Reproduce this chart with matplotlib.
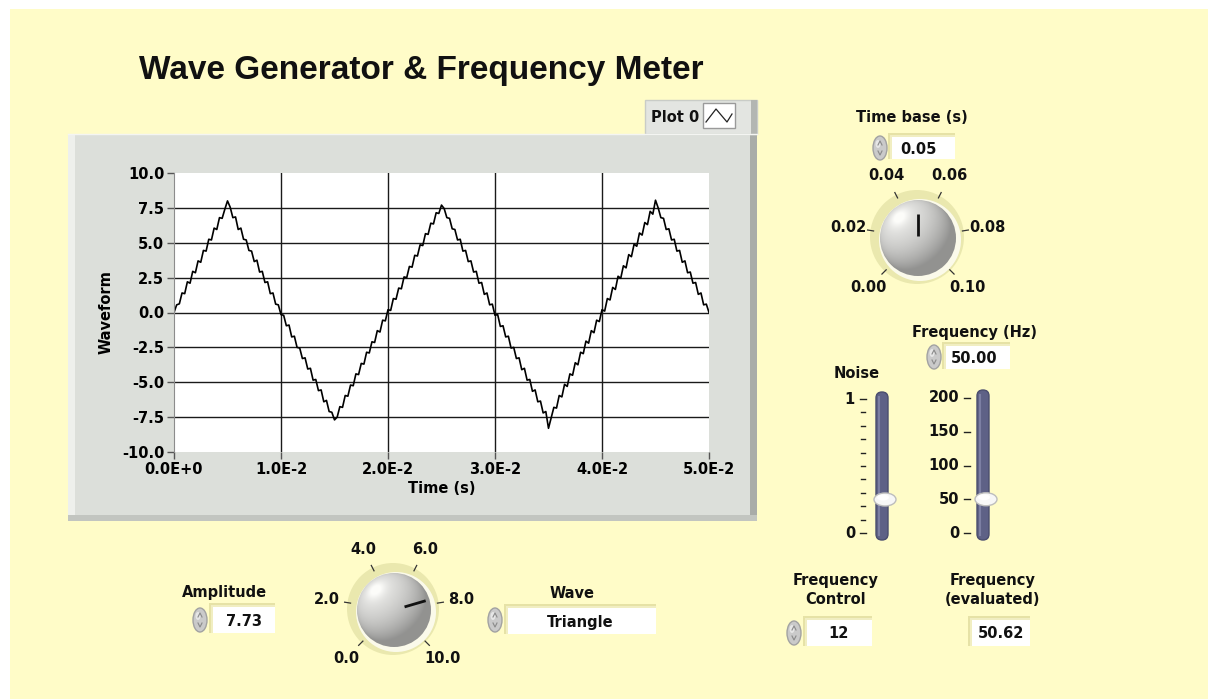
import numpy as np
import matplotlib
matplotlib.use('Agg')
import matplotlib.pyplot as plt
from matplotlib.patches import Rectangle, Circle, Ellipse, FancyBboxPatch

# ---------------- data ----------------
title = "Wave Generator & Frequency Meter"
sample_dt = 0.00025  # s between samples
waveform = [
    0.00, 0.55, 0.62, 1.40, 1.35, 2.20, 2.10, 2.95, 2.85, 3.70, 3.60, 4.45, 4.40, 5.25, 5.20, 6.05, 5.95, 6.80, 6.75, 7.40, 8.00,
    7.55, 6.80, 6.85, 5.95, 6.05, 5.25, 5.20, 4.45, 4.40, 3.65, 3.75, 2.90, 2.95, 2.15, 2.20, 1.35, 1.40, 0.60, 0.55, -0.15,
    -0.20, -0.95, -0.90, -1.75, -1.70, -2.50, -2.55, -3.30, -3.25, -4.05, -4.00, -4.85, -4.80, -5.60, -5.55, -6.40, -6.30, -7.10, -7.15, -7.70,
    -7.50, -6.75, -6.80, -5.95, -6.00, -5.20, -5.25, -4.40, -4.45, -3.65, -3.70, -2.85, -2.90, -2.10, -2.15, -1.30, -1.40, -0.55, -0.60, 0.20,
    0.15, 1.00, 0.95, 1.75, 1.70, 2.55, 2.50, 3.30, 3.25, 4.10, 4.05, 4.85, 4.80, 5.65, 5.60, 6.40, 6.35, 7.15, 7.10, 7.70,
    7.45, 6.80, 6.75, 6.00, 5.95, 5.20, 5.25, 4.40, 4.45, 3.65, 3.70, 2.90, 2.95, 2.10, 2.15, 1.30, 1.40, 0.55, 0.60, -0.20,
    -0.15, -1.00, -0.95, -1.75, -1.70, -2.55, -2.50, -3.30, -3.25, -4.10, -4.00, -4.85, -4.80, -5.65, -5.55, -6.40, -6.35, -7.20, -7.10, -8.30,
    -7.55, -6.80, -6.85, -5.95, -6.05, -5.15, -5.30, -4.40, -4.50, -3.60, -3.75, -2.85, -2.95, -2.05, -2.20, -1.30, -1.45, -0.55, -0.65, 0.20,
    0.10, 1.00, 0.90, 1.80, 1.65, 2.60, 2.45, 3.35, 3.20, 4.15, 4.00, 4.90, 4.75, 5.70, 5.55, 6.45, 6.30, 7.25, 7.05, 8.05,
    7.50, 6.80, 6.75, 5.95, 6.00, 5.20, 5.25, 4.40, 4.45, 3.60, 3.70, 2.85, 2.90, 2.10, 2.15, 1.30, 1.40, 0.55, 0.60, 0.00,
]
x_ticks = [0.0, 0.01, 0.02, 0.03, 0.04, 0.05]
x_tick_labels = ['0.0E+0', '1.0E-2', '2.0E-2', '3.0E-2', '4.0E-2', '5.0E-2']
y_ticks = [-10.0, -7.5, -5.0, -2.5, 0.0, 2.5, 5.0, 7.5, 10.0]
y_tick_labels = ['-10.0', '-7.5', '-5.0', '-2.5', '0.0', '2.5', '5.0', '7.5', '10.0']
x_label = 'Time (s)'
y_label = 'Waveform'
legend_label = 'Plot 0'

timebase_ticks = [0.00, 0.02, 0.04, 0.06, 0.08, 0.10]
timebase_tick_labels = ['0.00', '0.02', '0.04', '0.06', '0.08', '0.10']
timebase_value = 0.05
amp_ticks = [0.0, 2.0, 4.0, 6.0, 8.0, 10.0]
amp_tick_labels = ['0.0', '2.0', '4.0', '6.0', '8.0', '10.0']
amplitude_value = 7.73
noise_ticks = [0.0, 0.1, 0.2, 0.3, 0.4, 0.5, 0.6, 0.7, 0.8, 0.9, 1.0]
noise_major = {0.0: '0', 1.0: '1'}
noise_value = 0.25
freq_ticks = [0, 50, 100, 150, 200]
freq_tick_labels = ['0', '50', '100', '150', '200']
frequency_value = 50.00
wave_type = 'Triangle'
freq_control = 12
freq_evaluated = 50.62

# ---------------- figure ----------------
W, H = 1208, 699
BG = '#FFFCC8'
FONT = 'DejaVu Sans'
fig = plt.figure(figsize=(W / 100, H / 100), dpi=100, facecolor='white')
ov = fig.add_axes([0, 0, 1, 1], zorder=0)
ov.set_xlim(0, W)
ov.set_ylim(H, 0)
ov.axis('off')

ov.add_patch(Rectangle((10, 9), W - 10, H - 9, facecolor=BG, edgecolor='none'))


def txt(x, y, s, size=10.5, ha='center', va='center', weight='bold', family=FONT, **kw):
    ov.text(x, y, s, fontsize=size, ha=ha, va=va, fontweight=weight, family=family, color='#111111', **kw)


txt(139, 70, title, size=24, ha='left', family='Liberation Sans')

# chart panel
ov.add_patch(Rectangle((68, 134), 689, 387, facecolor='#DCDFDA', edgecolor='none'))
ov.add_patch(Rectangle((68, 134), 7, 387, facecolor='#EEF0EC', edgecolor='none'))
ov.add_patch(Rectangle((750, 134), 7, 387, facecolor='#A9ACA8', edgecolor='none'))
ov.add_patch(Rectangle((68, 515), 689, 6, facecolor='#C2C5C0', edgecolor='none'))
ov.plot([68, 757], [134, 134], color='#F4F5F2', lw=1)

# legend
ov.add_patch(Rectangle((645, 100), 112, 34, facecolor='#E3E5E1', edgecolor='#C9CCC7', lw=1))
ov.add_patch(Rectangle((751, 100), 6, 34, facecolor='#B3B6B2', edgecolor='none'))
txt(675, 117, legend_label, size=10.5)
ov.add_patch(Rectangle((703, 103), 32, 25, facecolor='white', edgecolor='#9A9A9A', lw=1))
ov.plot([706, 716, 727, 732], [122, 109, 122, 114], color='#222222', lw=0.9)

# waveform chart
ax = fig.add_axes([174 / W, 1 - 452 / H, 535 / W, 279 / H], zorder=2)
times = np.arange(len(waveform)) * sample_dt
ax.plot(times, waveform, color='black', lw=1.2)
ax.set_xlim(x_ticks[0], x_ticks[-1])
ax.set_ylim(y_ticks[0], y_ticks[-1])
ax.set_xticks(x_ticks)
ax.set_xticklabels(x_tick_labels)
ax.set_yticks(y_ticks)
ax.set_yticklabels(y_tick_labels)
ax.set_facecolor('white')
ax.grid(True, color='#1a1a1a', lw=1.0)
ax.set_axisbelow(True)
for gl in (ax.get_xgridlines()[0], ax.get_xgridlines()[-1], ax.get_ygridlines()[0], ax.get_ygridlines()[-1]):
    gl.set_visible(False)
for side in ['top', 'right', 'bottom']:
    ax.spines[side].set_visible(False)
ax.spines['left'].set_color('#8C8C8C')
ax.tick_params(direction='out', length=5, width=1, color='#555555', pad=2)
for lab in ax.get_xticklabels() + ax.get_yticklabels():
    lab.set_fontweight('bold')
    lab.set_fontsize(10.5)
    lab.set_family(FONT)
ax.set_xlabel(x_label, fontsize=10.5, fontweight='bold', family=FONT, labelpad=3)
ax.set_ylabel(y_label, fontsize=10.5, fontweight='bold', family=FONT, labelpad=6)


# ---------------- widgets ----------------
def spinner(cx, cy):
    ov.add_patch(Ellipse((cx, cy), 14, 24, facecolor='#CACACA', edgecolor='#A2A2A2', lw=1))
    ov.add_patch(Ellipse((cx - 2, cy - 4), 5, 8, facecolor='#E6E6E6', edgecolor='none'))
    ov.plot([cx - 2, cx, cx + 2], [cy - 3, cy - 7, cy - 3], color='#8A8A8A', lw=0.8)
    ov.plot([cx - 2, cx, cx + 2], [cy + 3, cy + 7, cy + 3], color='#8A8A8A', lw=0.8)


def numbox(x0, y0, x1, y1, s, tx=None, ha='left'):
    ov.add_patch(Rectangle((x0 - 4, y0 - 4), x1 - x0 + 4, y1 - y0 + 4, facecolor='#E6E2A6', edgecolor='none'))
    ov.add_patch(Rectangle((x0 - 2, y0 - 2), x1 - x0 + 2, y1 - y0 + 2, facecolor='#F1EEC2', edgecolor='none'))
    ov.add_patch(Rectangle((x0, y0), x1 - x0, y1 - y0, facecolor='white', edgecolor='none'))
    if tx is None:
        tx = (x0 + x1) / 2
    txt(tx, (y0 + y1) / 2 + 1, s, size=10.5, ha=ha)


def knob(cx, cy, r, ticks, labels, value, label_r, p0, p1):
    ov.add_patch(Circle((cx - 1, cy - 1), r + 9, facecolor='#EAE8AE', edgecolor='none'))
    ov.add_patch(Circle((cx + 2, cy + 2), r + 3, facecolor='#FBFAEA', edgecolor='none'))
    n = 200
    u = np.linspace(-1, 1, n)
    U, V = np.meshgrid(u, u)
    Z = np.sqrt(np.clip(1 - U ** 2 - V ** 2, 0, 1))
    L = np.array([-0.5, -0.55, 0.67])
    L = L / np.linalg.norm(L)
    d = np.clip(U * L[0] + V * L[1] + Z * L[2], 0, 1)
    inten = 0.58 + 0.33 * d + 0.12 * d ** 25
    inten = np.clip(inten, 0, 1)
    img = np.dstack([inten * 0.99, inten * 0.99, inten * 0.98])
    im = ov.imshow(img, extent=(cx - r, cx + r, cy + r, cy - r), zorder=3, interpolation='bilinear')
    clip = Circle((cx, cy), r, transform=ov.transData)
    im.set_clip_path(clip)
    ov.set_xlim(0, W)
    ov.set_ylim(H, 0)
    lo, hi = ticks[0], ticks[-1]

    def ang(v):
        return np.deg2rad(225 - 270 * (v - lo) / (hi - lo))

    for v, lab in zip(ticks, labels):
        a = ang(v)
        ov.plot([cx + (r + 7) * np.cos(a), cx + (r + 13) * np.cos(a)],
                [cy - (r + 7) * np.sin(a), cy - (r + 13) * np.sin(a)], color='#333333', lw=0.9, zorder=4)
        txt(cx + label_r * np.cos(a), cy - label_r * np.sin(a), lab, size=10.5)
    a = ang(value)
    ov.plot([cx + p0 * np.cos(a), cx + p1 * np.cos(a)], [cy - p0 * np.sin(a), cy - p1 * np.sin(a)],
            color='#111111', lw=2, zorder=5, solid_capstyle='butt')


def slider(xc, y_top, y_bot, y_vmax, y_vmin, vmin, vmax, value, ticks, labels, label_x):
    w = 12
    ov.add_patch(FancyBboxPatch((xc - w / 2, y_top), w, y_bot - y_top,
                                boxstyle='round,pad=0,rounding_size=6', facecolor='#5E6186', edgecolor='#4A4D6E', lw=1, zorder=3))
    ov.plot([xc - 3, xc - 3], [y_top + 5, y_bot - 5], color='#7C7FA3', lw=1.5, zorder=4)

    def ypos(v):
        return y_vmin - (v - vmin) / (vmax - vmin) * (y_vmin - y_vmax)

    for v in ticks:
        y = ypos(v)
        lab = labels.get(v)
        if lab is not None:
            ov.plot([label_x + 5, label_x + 11], [y, y], color='#222222', lw=1)
            txt(label_x, y, lab, ha='right')
        else:
            ov.plot([label_x + 6, label_x + 10], [y, y], color='#222222', lw=1)
    yv = ypos(value)
    ov.add_patch(Ellipse((xc + 3, yv), 22, 13, facecolor='#F7F7F7', edgecolor='#BDBDBD', lw=1, zorder=5))
    ov.add_patch(Ellipse((xc + 1, yv - 2), 12, 6, facecolor='white', edgecolor='none', zorder=6))


# Time base
txt(912, 118, 'Time base (s)')
spinner(880, 148)
numbox(892, 137, 955, 159, f'{timebase_value:.2f}', tx=900, ha='left')
knob(918, 238, 38, timebase_ticks, timebase_tick_labels, timebase_value, 70, 2, 24)

# Frequency (Hz)
txt(975, 333, 'Frequency (Hz)')
spinner(934, 357)
numbox(946, 346, 1010, 369, f'{frequency_value:.2f}', tx=951, ha='left')

# Noise slider
txt(857, 374, 'Noise')
slider(882, 392, 540, 399, 533, noise_ticks[0], noise_ticks[-1], noise_value, noise_ticks, noise_major, 855)

# Frequency slider
slider(983, 390, 540, 398, 533, freq_ticks[0], freq_ticks[-1], frequency_value, freq_ticks,
       {v: l for v, l in zip(freq_ticks, freq_tick_labels)}, 959)

# Amplitude
txt(224, 593, 'Amplitude')
spinner(200, 620)
numbox(213, 607, 275, 633, f'{amplitude_value:.2f}', tx=244, ha='center')
knob(394, 610, 37, amp_ticks, amp_tick_labels, amplitude_value, 68, 11, 33)

# Wave
txt(572, 593, 'Wave')
spinner(495, 620)
numbox(508, 608, 656, 634, wave_type, tx=580, ha='center')

# Frequency control
txt(836, 580, 'Frequency')
txt(836, 600, 'Control')
spinner(794, 633)
numbox(807, 620, 872, 646, f'{freq_control}', tx=838, ha='center')

# Frequency evaluated
txt(993, 580, 'Frequency')
txt(993, 600, '(evaluated)')
numbox(972, 620, 1030, 646, f'{freq_evaluated:.2f}', tx=1001, ha='center')

fig.savefig('out.png', dpi=100, facecolor='white')
